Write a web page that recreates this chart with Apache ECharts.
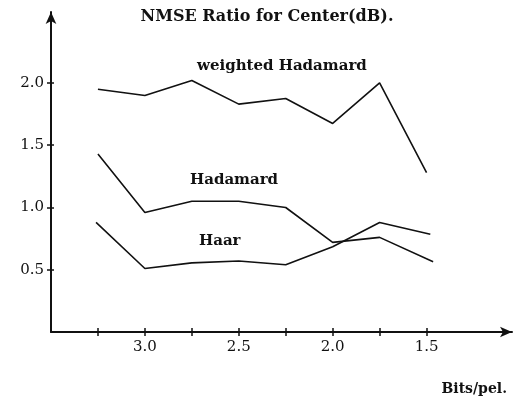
<!DOCTYPE html>
<html>
<head>
<meta charset="utf-8">
<script src="https://cdn.jsdelivr.net/npm/echarts@6/dist/echarts.min.js"></script>
<style>
  html, body { margin: 0; padding: 0; background: #fff; }
  #chart { width: 523px; height: 401px; }
</style>
</head>
<body>
<div id="chart"></div>
<script>
// bits per pel (x) and NMSE ratio (dB)
const bits = [3.25, 3.0, 2.75, 2.5, 2.25, 2.0, 1.75, 1.5];
const weightedHadamard = [1.95, 1.90, 2.02, 1.83, 1.875, 1.675, 2.0, 1.28];
const hadamardX = [3.25, 3.0, 2.75, 2.5, 2.25, 2.0, 1.75, 1.465];
const hadamard = [1.43, 0.96, 1.05, 1.05, 1.0, 0.72, 0.76, 0.565];
const haarX = [3.26, 3.0, 2.75, 2.5, 2.25, 2.0, 1.75, 1.48];
const haar = [0.88, 0.51, 0.555, 0.57, 0.54, 0.685, 0.88, 0.785];
const xTickValues = [3.25, 3.0, 2.75, 2.5, 2.25, 2.0, 1.75, 1.5];
const xLabelValues = [3.0, 2.5, 2.0, 1.5];
const yTickValues = [0.5, 1.0, 1.5, 2.0];

const serif = "DejaVu Serif";

function pairs(xs, ys) {
  return xs.map((x, i) => [x, ys[i]]);
}

const chart = echarts.init(document.getElementById("chart"));

const baseX = {
  type: "value",
  position: "bottom",
  inverse: true,
  min: 1.045,
  max: 3.5,
  splitLine: { show: false },
};
const baseY = {
  type: "value",
  position: "left",
  min: 0,
  max: 2.57,
  splitLine: { show: false },
};

function lineSeries(data) {
  return {
    type: "line",
    data: data,
    showSymbol: false,
    symbol: "none",
    lineStyle: { color: "#111", width: 1.6 },
    silent: true,
  };
}

chart.setOption({
  animation: false,
  title: [
    {
      text: "NMSE Ratio for Center(dB).",
      left: 262,
      textAlign: "center",
      top: 4,
      textStyle: { fontFamily: serif, fontSize: 16, fontWeight: "bold", color: "#111" },
    },
    {
      text: "Bits/pel.",
      right: 11,
      top: 377,
      textStyle: { fontFamily: serif, fontSize: 14, fontWeight: "bold", color: "#111" },
    },
  ],
  grid: { left: 51, right: 11, top: 12, bottom: 69 },
  xAxis: [
    Object.assign({}, baseX, {
      axisLine: {
        show: true,
        lineStyle: { color: "#111", width: 2 },
        symbol: ["none", "arrow"],
        symbolSize: [8, 12],
      },
      axisTick: {
        show: true,
        inside: false,
        length: 4,
        customValues: xTickValues,
        lineStyle: { color: "#111", width: 1.5 },
      },
      axisLabel: {
        customValues: xLabelValues,
        margin: 8,
        fontFamily: serif,
        fontSize: 15,
        color: "#111",
        formatter: (v) => v.toFixed(1),
      },
    }),
    Object.assign({}, baseX, {
      axisLine: { show: false },
      axisTick: {
        show: true,
        inside: true,
        length: 4,
        customValues: xTickValues,
        lineStyle: { color: "#111", width: 1.5 },
      },
      axisLabel: { show: false },
    }),
  ],
  yAxis: [
    Object.assign({}, baseY, {
      axisLine: {
        show: true,
        lineStyle: { color: "#111", width: 2 },
        symbol: ["none", "arrow"],
        symbolSize: [8, 12],
      },
      axisTick: {
        show: true,
        inside: false,
        length: 4,
        customValues: yTickValues,
        lineStyle: { color: "#111", width: 1.5 },
      },
      axisLabel: {
        customValues: yTickValues,
        margin: 7,
        fontFamily: serif,
        fontSize: 15,
        color: "#111",
        formatter: (v) => v.toFixed(1),
      },
    }),
    Object.assign({}, baseY, {
      axisLine: { show: false },
      axisTick: {
        show: true,
        inside: true,
        length: 3,
        customValues: yTickValues,
        lineStyle: { color: "#111", width: 1.5 },
      },
      axisLabel: { show: false },
    }),
  ],
  graphic: [
    {
      type: "text",
      left: 197,
      top: 59,
      style: { text: "weighted Hadamard", font: "bold 15px 'DejaVu Serif'", fill: "#111" },
    },
    {
      type: "text",
      left: 190,
      top: 173,
      style: { text: "Hadamard", font: "bold 15px 'DejaVu Serif'", fill: "#111" },
    },
    {
      type: "text",
      left: 199,
      top: 234,
      style: { text: "Haar", font: "bold 15px 'DejaVu Serif'", fill: "#111" },
    },
  ],
  series: [
    lineSeries(pairs(bits, weightedHadamard)),
    lineSeries(pairs(hadamardX, hadamard)),
    lineSeries(pairs(haarX, haar)),
  ],
});
</script>
</body>
</html>
